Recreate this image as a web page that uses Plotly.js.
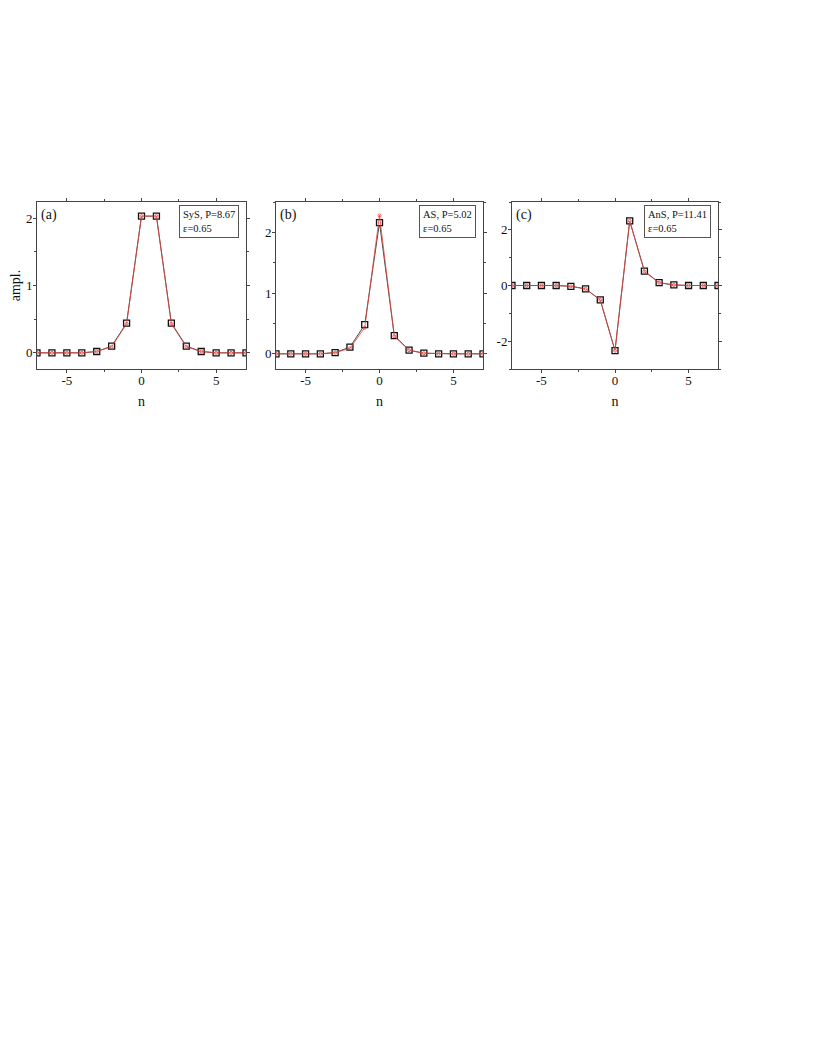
<!DOCTYPE html>
<html>
<head>
<meta charset="utf-8">
<script src="https://cdn.plot.ly/plotly-3.0.1.min.js"></script>
<style>
body { margin: 0; background: #fff; }
#chart { width: 817px; height: 1058px; }
</style>
</head>
<body>
<div id="chart"></div>
<script>
// site index
const n = [-7, -6, -5, -4, -3, -2, -1, 0, 1, 2, 3, 4, 5, 6, 7]

// panel (a) SyS
const symBlack = [0, 0, 0, 0, 0.02, 0.10, 0.44, 2.03, 2.03, 0.44, 0.10, 0.02, 0, 0, 0]
const symRed   = [0, 0, 0, 0, 0.02, 0.09, 0.43, 2.03, 2.03, 0.43, 0.09, 0.02, 0, 0, 0]

// panel (b) AS
const asBlack = [0, 0, 0, 0, 0.02, 0.11, 0.48, 2.16, 0.30, 0.06, 0.01, 0, 0, 0, 0]
const asRed   = [0, 0, 0, 0, 0.02, 0.09, 0.43, 2.28, 0.29, 0.06, 0.01, 0, 0, 0, 0]

// panel (c) AnS
const ansBlack = [0, 0, 0, 0, -0.03, -0.12, -0.52, -2.34, 2.32, 0.52, 0.10, 0.02, 0, 0, 0]
const ansRed   = [0, 0, 0, 0, -0.03, -0.12, -0.52, -2.34, 2.32, 0.50, 0.10, 0.02, 0, 0, 0]

const xTicks = [-5, 0, 5]
const xTickText = ["-5", "0", "5"]
const yTicksAB = [0, 1, 2]
const yTickTextAB = ["0", "1", "2"]
const yTicksC = [-2, 0, 2]
const yTickTextC = ["-2", "0", "2"]

const legendText = ["SyS, P=8.67<br>ε=0.65", "AS, P=5.02<br>ε=0.65", "AnS, P=11.41<br>ε=0.65"]
const panelLabels = ["(a)", "(b)", "(c)"]

const font = "Liberation Serif, Times New Roman, serif"

const axisRefs = i => ({
    xaxis: i === 0 ? "x" : "x" + (i + 1),
    yaxis: i === 0 ? "y" : "y" + (i + 1)
})

const blackTrace = (y, i) => Object.assign({
    x: n, y,
    mode: "lines+markers",
    line: {color: "#333", width: 0.9},
    marker: {symbol: "square", size: 6, color: "#fff", line: {width: 1.3, color: "#111"}},
    showlegend: false
}, axisRefs(i))
const redTrace = (y, i) => Object.assign({
    x: n, y,
    mode: "lines+markers",
    line: {color: "#e8403a", width: 0.8},
    marker: {symbol: "circle-open", size: 3, color: "#e8403a", line: {width: 0.8}},
    showlegend: false
}, axisRefs(i))

const data = [
    blackTrace(symBlack, 0), redTrace(symRed, 0),
    blackTrace(asBlack, 1), redTrace(asRed, 1),
    blackTrace(ansBlack, 2), redTrace(ansRed, 2)
]

const xDomains = [[37 / 817, 246 / 817], [276 / 817, 483 / 817], [512 / 817, 718 / 817]]
const yDomain = [1 - 369 / 1058, 1 - 202 / 1058]

const axisBase = {
    showline: true, linecolor: "#444", linewidth: 1,
    mirror: "ticks", ticks: "outside", ticklen: 3, tickcolor: "#444",
    showgrid: false, zeroline: false,
    tickfont: {family: font, size: 13, color: "#111"}
}

const layout = {
    width: 817, height: 1058,
    margin: {l: 0, r: 0, t: 0, b: 0},
    paper_bgcolor: "#fff", plot_bgcolor: "#fff",
    font: {family: font, color: "#111"},
    annotations: []
}

const yRanges = [[-0.24, 2.24], [-0.25, 2.5], [-3, 3]]
const yMinor = [0.5, 0.5, 1]

for (let i = 0; i < 3; i++) {
    const sfx = i === 0 ? "" : String(i + 1)
    layout["xaxis" + sfx] = Object.assign({}, axisBase, {
        domain: xDomains[i], range: [-7, 7], anchor: "y" + sfx,
        tickvals: xTicks, ticktext: xTickText, ticklabelstandoff: -4,
        minor: {dtick: 2.5, tick0: 0, ticks: "outside", ticklen: 2, tickcolor: "#444"},
        title: {text: "n", font: {family: font, size: 14}, standoff: 9}
    })
    layout["yaxis" + sfx] = Object.assign({}, axisBase, {
        domain: yDomain, range: yRanges[i], anchor: "x" + sfx,
        tickvals: i === 2 ? yTicksC : yTicksAB,
        ticktext: i === 2 ? yTickTextC : yTickTextAB,
        ticklabelstandoff: -2,
        minor: {dtick: yMinor[i], tick0: 0, ticks: "outside", ticklen: 2, tickcolor: "#444"},
        title: i === 0 ? {text: "ampl.", font: {family: font, size: 14}, standoff: 2} : {text: ""}
    })
    layout.annotations.push({
        xref: "x" + sfx + " domain", yref: "y" + sfx + " domain",
        x: 0.01, y: 0.98, xanchor: "left", yanchor: "top",
        text: panelLabels[i], showarrow: false,
        font: {family: font, size: 14, color: "#111"}
    })
    layout.annotations.push({
        xref: "x" + sfx + " domain", yref: "y" + sfx + " domain",
        x: 0.965, y: 0.982, xanchor: "right", yanchor: "top",
        text: legendText[i], showarrow: false, align: "left",
        bordercolor: "#555", borderwidth: 1, borderpad: 3, bgcolor: "#fff",
        font: {family: font, size: 10.5, color: "#111"}
    })
}

Plotly.newPlot("chart", data, layout, {displayModeBar: false, staticPlot: true})
</script>
</body>
</html>
